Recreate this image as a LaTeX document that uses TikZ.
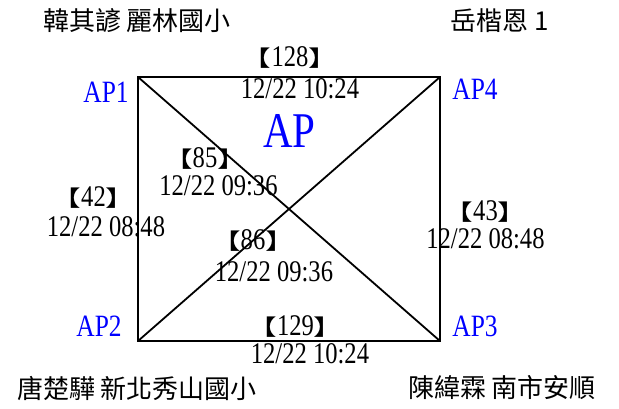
\documentclass[tikz,border=0pt]{standalone}
\usepackage{fontspec}
\setmainfont[FakeStretch=0.82]{Liberation Serif}
\newfontfamily\cjk{Noto Sans CJK TC}
\newcommand{\lbrk}{\scalebox{1.35}[1]{\cjk\fontsize{22}{24}\selectfont【}}
\newcommand{\rbrk}{\scalebox{1.35}[1]{\cjk\fontsize{22}{24}\selectfont】}}

\begin{document}
\begin{tikzpicture}[x=1pt,y=-1pt,
	aplab/.style={text=blue,font=\fontsize{31}{33}\selectfont},
	cnt/.style={inner sep=0.5pt,font=\fontsize{30}{32}\selectfont},
	stamp/.style={inner sep=0.5pt,font=\fontsize{30}{32}\selectfont},
	who/.style={font=\cjk\fontsize{26}{28}\selectfont}]
	\useasboundingbox (0,0) rectangle (619,408);
	\coordinate (p1) at (138,77);
	\coordinate (p2) at (138,341);
	\coordinate (p3) at (440,341);
	\coordinate (p4) at (440,77);
	\draw[line width=1.8pt] (p1) -- (p4) -- (p3) -- (p2) -- cycle;
	\draw[line width=1.8pt] (p1) -- (p3);
	\draw[line width=1.8pt] (p2) -- (p4);
	\foreach \nm/\x/\y in {1/106/92, 2/99/326, 3/475/326, 4/475/89} {
		\node[aplab] (ap\nm) at (\x,\y) {AP\nm};
	}
	\node[aplab,font=\fontsize{50}{52}\selectfont] (apmid) at (289.5,130.5) {AP};
	\foreach \nm/\bx/\by/\dx/\dy/\tm in {128/290/57/300/89/10:24, 129/295.5/327/310/354/10:24, 42/93.5/198/106/227/08:48, 85/205/158/218.5/186/09:36, 86/253/240/274/272/09:36, 43/485.5/212/485.5/239/08:48} {
		\node[cnt] (c\nm) at (\bx,\by) {\lbrk\nm\rbrk};
		\node[stamp] (t\nm) at (\dx,\dy) {12/22 \tm};
	}
	\node[who] (hanqy) at (137,21) {韓其諺 麗林國小};
	\node[who] (yuek) at (500,21) {岳楷恩 1};
	\node[who] (tangcy) at (137,388) {唐楚驊 新北秀山國小};
	\node[who] (chenwl) at (502,388) {陳緯霖 南市安順};
\end{tikzpicture}
\end{document}
